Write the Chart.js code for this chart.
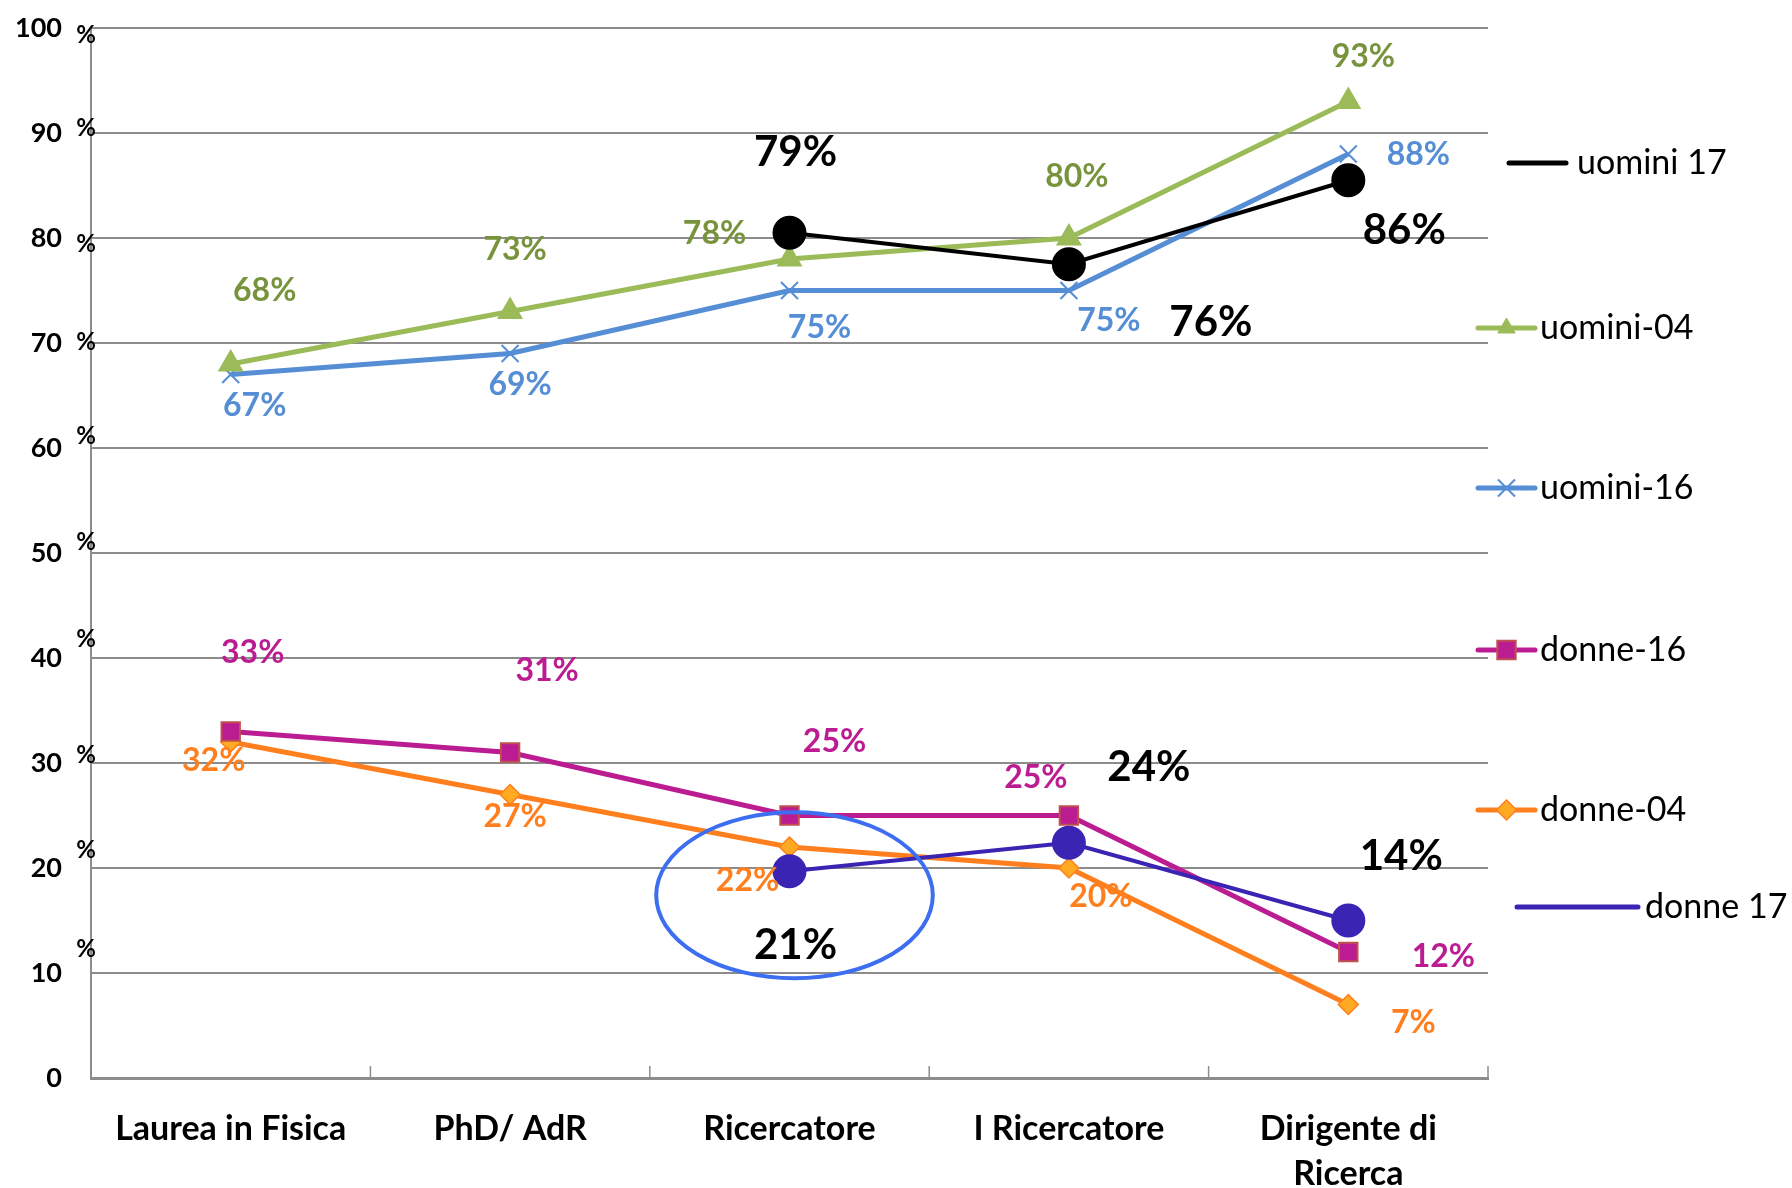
<!DOCTYPE html>
<html>
<head>
<meta charset="utf-8">
<script src="https://cdn.jsdelivr.net/npm/chart.js@4.4.0/dist/chart.umd.min.js"></script>
<style>
html, body { margin: 0; padding: 0; background: #fff; }
#contenitore { width: 1792px; height: 1188px; }
</style>
</head>
<body>
<div id="contenitore"><canvas id="grafico" width="1792" height="1188"></canvas></div>
<script>
// Categorie dell'asse x
const categorie = ['Laurea in Fisica', 'PhD/ AdR', 'Ricercatore', 'I Ricercatore', ['Dirigente di', 'Ricerca']];

// Serie (valori in %)
const uomini04 = [68, 73, 78, 80, 93];
const uomini16 = [67, 69, 75, 75, 88];
const donne16 = [33, 31, 25, 25, 12];
const donne04 = [32, 27, 22, 20, 7];
const uomini17 = [null, null, 80.5, 77.5, 85.5];
const donne17 = [null, null, 19.7, 22.4, 15];

// Etichette scritte sul grafico
const etichetteUomini17 = [null, null, '79%', '76%', '86%'];
const etichetteDonne17 = [null, null, '21%', '24%', '14%'];
const percento = arr => arr.map(v => v === null ? null : v + '%');

// Spostamenti delle etichette rispetto al punto (px)
const spostUomini04 = [[34, -73], [5, -62], [-75, -25], [8, -61], [15, -45]];
const spostUomini16 = [[24, 31], [10, 31], [30, 37], [40, 30], [70, 1]];
const spostDonne16 = [[22, -79], [37, -82], [45, -74], [-33, -38], [95, 5]];
const spostDonne04 = [[-17, 19], [5, 22], [-42, 34], [32, 29], [65, 18]];
const spostUomini17 = [null, null, [6, -80], [142, 58], [56, 50]];
const spostDonne17 = [null, null, [6, 74], [80, -75], [53, -64]];

// Spostamento verticale dei simboli "%" sull'asse y (dal 100 al 10)
const spostPercento = [7, -5, 6, -1, -12, -11, -19, -8, -18, -24];

const fontEtichetta = 'bold 32px Lato';
const fontGrande = 'bold 42px Lato';

const datasets = [
    {
        label: 'uomini 17', data: uomini17, order: 0,
        borderColor: '#000000', backgroundColor: '#000000', borderWidth: 4,
        pointStyle: 'circle', pointRadius: 15, pointBackgroundColor: '#000000', pointBorderColor: '#000000',
        etichette: etichetteUomini17, spost: spostUomini17, coloreEtichetta: '#000000', fontEt: fontGrande,
        legenda: { x1: 1509, x2: 1566, y: 163, xt: 1577, marker: false }
    },
    {
        label: 'uomini-04', data: uomini04, order: 1,
        borderColor: '#9BBB59', backgroundColor: '#9BBB59', borderWidth: 5,
        pointStyle: 'triangle', pointRadius: 10, pointBackgroundColor: '#9BBB59', pointBorderColor: '#9BBB59',
        etichette: percento(uomini04), spost: spostUomini04, coloreEtichetta: '#77933C', fontEt: fontEtichetta,
        legenda: { x1: 1478, x2: 1535, y: 328, xt: 1540, marker: true }
    },
    {
        label: 'uomini-16', data: uomini16, order: 1,
        borderColor: '#558ED5', backgroundColor: '#558ED5', borderWidth: 5,
        pointStyle: 'crossRot', pointRadius: 12, pointBorderWidth: 2, pointBorderColor: '#558ED5',
        etichette: percento(uomini16), spost: spostUomini16, coloreEtichetta: '#558ED5', fontEt: fontEtichetta,
        legenda: { x1: 1478, x2: 1535, y: 488, xt: 1540, marker: true }
    },
    {
        label: 'donne-16', data: donne16, order: 1,
        borderColor: '#BB1C92', backgroundColor: '#BB1C92', borderWidth: 5,
        pointStyle: 'rect', pointRadius: 13, pointBorderWidth: 2, pointBackgroundColor: '#BB1C92', pointBorderColor: '#C0504D',
        etichette: percento(donne16), spost: spostDonne16, coloreEtichetta: '#BB1C92', fontEt: fontEtichetta,
        legenda: { x1: 1478, x2: 1535, y: 650, xt: 1540, marker: true }
    },
    {
        label: 'donne-04', data: donne04, order: 1,
        borderColor: '#FF7F1E', backgroundColor: '#FF7F1E', borderWidth: 5,
        pointStyle: 'rectRot', pointRadius: 10, pointBorderWidth: 1.5, pointBackgroundColor: '#FFAA22', pointBorderColor: '#FF7F1E',
        etichette: percento(donne04), spost: spostDonne04, coloreEtichetta: '#FF7F1E', fontEt: fontEtichetta,
        legenda: { x1: 1478, x2: 1535, y: 810, xt: 1540, marker: true }
    },
    {
        label: 'donne 17', data: donne17, order: 0,
        borderColor: '#3A24B4', backgroundColor: '#3A24B4', borderWidth: 4,
        pointStyle: 'circle', pointRadius: 15, pointBackgroundColor: '#3A24B4', pointBorderColor: '#3A24B4',
        etichette: etichetteDonne17, spost: spostDonne17, coloreEtichetta: '#000000', fontEt: fontGrande,
        legenda: { x1: 1517, x2: 1638, y: 907, xt: 1645, marker: false }
    }
];

// Etichette dei dati ed ellisse
const pluginEtichette = {
    id: 'etichette',
    afterDatasetsDraw(chart) {
        const ctx = chart.ctx;
        const yScale = chart.scales.y;
        const xScale = chart.scales.x;
        // ellisse attorno a "Ricercatore"
        const cx = xScale.getPixelForValue(2) + 5;
        const cy = yScale.getPixelForValue(17.4);
        const rx = 0.495 * (xScale.getPixelForValue(1) - xScale.getPixelForValue(0));
        const ry = yScale.getPixelForValue(0) - yScale.getPixelForValue(7.9);
        ctx.save();
        ctx.beginPath();
        ctx.ellipse(cx, cy, rx, ry, 0, 0, Math.PI * 2);
        ctx.strokeStyle = '#3D6EF2';
        ctx.lineWidth = 4;
        ctx.stroke();
        ctx.restore();

        chart.data.datasets.forEach((ds, i) => {
            const meta = chart.getDatasetMeta(i);
            meta.data.forEach((pt, j) => {
                const testo = ds.etichette[j];
                if (!testo) return;
                const [dx, dy] = ds.spost[j];
                ctx.save();
                ctx.font = ds.fontEt;
                ctx.fillStyle = ds.coloreEtichetta;
                ctx.textAlign = 'center';
                ctx.textBaseline = 'middle';
                ctx.fillText(testo, pt.x + dx, pt.y + dy);
                ctx.restore();
            });
        });
    }
};

// Disegna un simbolo come quelli dei punti
function disegnaSimbolo(ctx, ds, x, y) {
    ctx.save();
    ctx.fillStyle = ds.pointBackgroundColor || ds.borderColor;
    ctx.strokeStyle = ds.pointBorderColor || ds.borderColor;
    ctx.lineWidth = ds.pointBorderWidth || 1;
    Chart.helpers.drawPoint(ctx, {
        pointStyle: ds.pointStyle, radius: ds.pointRadius, rotation: 0, borderWidth: ds.pointBorderWidth || 1
    }, x, y);
    ctx.restore();
}

// Legenda sulla destra e dettagli degli assi
const pluginLegenda = {
    id: 'legenda',
    afterDraw(chart) {
        const ctx = chart.ctx;
        chart.data.datasets.forEach(ds => {
            const l = ds.legenda;
            ctx.save();
            ctx.strokeStyle = ds.borderColor;
            ctx.lineWidth = 5;
            ctx.lineCap = 'round';
            ctx.beginPath();
            ctx.moveTo(l.x1, l.y);
            ctx.lineTo(l.x2, l.y);
            ctx.stroke();
            ctx.restore();
            if (l.marker) disegnaSimbolo(ctx, ds, (l.x1 + l.x2) / 2, l.y);
            ctx.save();
            ctx.font = '34px Lato';
            ctx.fillStyle = '#000000';
            ctx.textAlign = 'left';
            ctx.textBaseline = 'middle';
            ctx.fillText(ds.label, l.xt, l.y);
            ctx.restore();
        });

        // simboli "%" accanto alle etichette dell'asse y
        const yScale = chart.scales.y;
        ctx.save();
        ctx.font = 'bold 24px Lato';
        ctx.fillStyle = '#000000';
        ctx.textAlign = 'center';
        ctx.textBaseline = 'middle';
        for (let k = 0; k < spostPercento.length; k++) {
            const v = 100 - k * 10;
            ctx.fillText('%', 86, yScale.getPixelForValue(v) + spostPercento[k]);
        }
        ctx.restore();

        // tacche interne sull'asse x
        const xScale = chart.scales.x;
        const base = yScale.getPixelForValue(0);
        ctx.save();
        ctx.strokeStyle = '#8C8C8C';
        ctx.lineWidth = 1.5;
        for (let k = 0; k <= categorie.length; k++) {
            const x = xScale.getPixelForValue(k - 0.5);
            ctx.beginPath();
            ctx.moveTo(x, base);
            ctx.lineTo(x, base - 12);
            ctx.stroke();
        }
        ctx.restore();
    }
};

new Chart(document.getElementById('grafico').getContext('2d'), {
    type: 'line',
    data: { labels: categorie, datasets: datasets },
    options: {
        responsive: false,
        animation: false,
        layout: { padding: { top: 28, right: 304, left: 0, bottom: 0 } },
        elements: { line: { tension: 0 } },
        plugins: {
            legend: { display: false },
            tooltip: { enabled: false },
            title: { display: false }
        },
        scales: {
            x: {
                offset: true,
                grid: { display: false },
                border: { color: '#8C8C8C', width: 3 },
                ticks: {
                    color: '#000000',
                    font: { family: 'Lato', size: 34, weight: 'bold', lineHeight: 1.32 },
                    padding: 21,
                    maxRotation: 0,
                    autoSkip: false
                },
                afterFit: scale => { scale.height = 110; }
            },
            y: {
                min: 0,
                max: 100,
                ticks: {
                    stepSize: 10,
                    color: '#000000',
                    font: { family: 'Lato', size: 27, weight: 'bold' },
                    padding: 29
                },
                grid: { color: '#8C8C8C', lineWidth: 2, drawTicks: false },
                border: { color: '#8C8C8C', width: 2 },
                afterFit: scale => {
                    scale.width = 91;
                    scale.paddingTop = 10;
                    scale.paddingBottom = 10;
                }
            }
        }
    },
    plugins: [pluginEtichette, pluginLegenda]
});
</script>
</body>
</html>
